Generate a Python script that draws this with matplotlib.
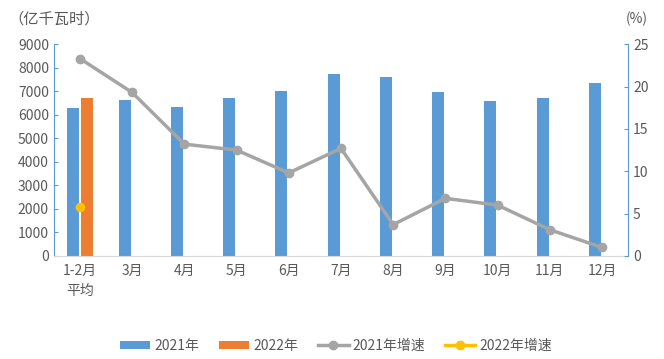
import matplotlib.pyplot as plt
from matplotlib.lines import Line2D
import numpy as np

plt.rcParams['font.family'] = ['Noto Sans CJK SC', 'DejaVu Sans']

months = ["1-2月\n平均", "3月", "4月", "5月", "6月", "7月", "8月", "9月", "10月", "11月", "12月"]
use_2021 = [6280, 6620, 6330, 6700, 7000, 7730, 7600, 6950, 6580, 6700, 7360]
use_2022 = [6700]
growth_2021 = [23.3, 19.3, 13.2, 12.5, 9.8, 12.7, 3.7, 6.8, 6.0, 3.1, 1.0]
growth_2022 = [5.8]

blue = '#5b9bd5'
orange = '#ed7d31'
grey = '#a5a5a5'
yellow = '#ffc000'
txt = '#595959'

fig = plt.figure(figsize=(6.64, 3.59), dpi=100)
ax = fig.add_axes([0.081, 0.287, 0.865, 0.590])
ax2 = ax.twinx()

x = np.arange(len(months))
w = 0.23
ax.bar(x - 0.14, use_2021, w, color=blue, label='2021年', zorder=2)
ax.bar(x[:len(use_2022)] + 0.14, use_2022, w, color=orange, label='2022年', zorder=2)

ax2.plot(x, growth_2021, color=grey, lw=2.5, marker='o', ms=6)
ax2.plot(x[:len(growth_2022)], growth_2022, color=yellow, marker='o', ms=6, linestyle='none')

ax.set_xlim(-0.5, 10.5)
ax.set_ylim(0, 9000)
ax.set_yticks(range(0, 9001, 1000))
ax2.set_ylim(0, 25)
ax2.set_yticks(range(0, 26, 5))

ax.set_xticks(x)
ax.set_xticklabels(months, linespacing=1.5)

for a in (ax, ax2):
    a.spines['top'].set_visible(False)
    a.tick_params(colors=txt, labelsize=10)
ax.spines['right'].set_visible(False)
ax.spines['left'].set_color(blue)
ax.spines['bottom'].set_color('#d9d9d9')
ax.tick_params(axis='x', length=0, pad=6)
ax.tick_params(axis='y', color=blue, length=3, direction='in')
ax2.spines['left'].set_visible(False)
ax2.spines['bottom'].set_visible(False)
ax2.spines['right'].set_color(blue)
ax2.tick_params(axis='y', color=blue, length=3, direction='in')

fig.text(0.012, 0.948, '（亿千瓦时）', fontsize=11, color=txt, va='center')
fig.text(0.943, 0.948, '(%)', fontsize=10, color=txt, va='center')

h1, l1 = ax.get_legend_handles_labels()
h2 = [Line2D([], [], color=grey, lw=2.5, marker='o', ms=6),
      Line2D([], [], color=yellow, lw=2.5, marker='o', ms=6)]
l2 = ['2021年增速', '2022年增速']
fig.legend(h1 + h2, l1 + l2, loc='center', bbox_to_anchor=(0.506, 0.037), ncol=4,
           frameon=False, fontsize=10, labelcolor=txt, handlelength=2.2,
           handleheight=0.5, columnspacing=1.4, handletextpad=0.3)

fig.savefig('out.png', dpi=100)
